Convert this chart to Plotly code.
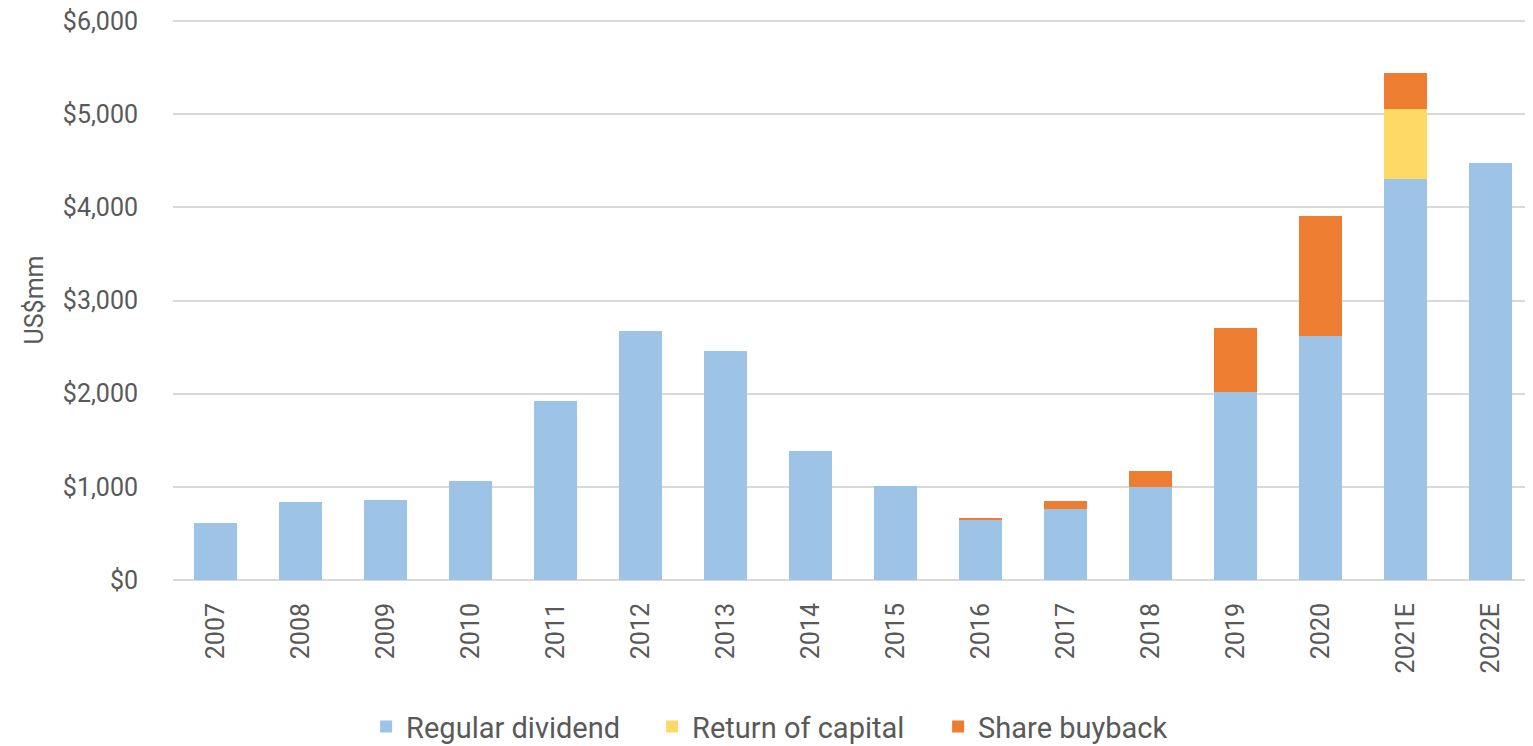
import plotly.graph_objects as go

years = ["2007", "2008", "2009", "2010", "2011", "2012", "2013", "2014",
         "2015", "2016", "2017", "2018", "2019", "2020", "2021E", "2022E"]
regular_dividend = [612, 837, 858, 1062, 1920, 2672, 2457, 1384,
                    1009, 650, 762, 998, 2017, 2618, 4299, 4478]
return_of_capital = [0, 0, 0, 0, 0, 0, 0, 0,
                     0, 0, 0, 0, 0, 0, 755, 0]
share_buyback = [0, 0, 0, 0, 0, 0, 0, 0,
                 0, 10, 86, 172, 685, 1290, 383, 0]
y_ticks = [0, 1000, 2000, 3000, 4000, 5000, 6000]
y_tick_labels = ["$0", "$1,000", "$2,000", "$3,000", "$4,000", "$5,000", "$6,000"]

FONT = "Roboto, 'Open Sans', sans-serif"
NARROW = "'Liberation Sans Narrow', 'Arial Narrow', Roboto, sans-serif"
GREY = "#595959"

fig = go.Figure()
for name, vals, color in [
    ("Regular dividend", regular_dividend, "#9DC3E6"),
    ("Return of capital", return_of_capital, "#FFD966"),
    ("Share buyback", share_buyback, "#ED7D31"),
]:
    fig.add_trace(go.Bar(
        x=years, y=vals, name=name,
        marker=dict(color=color, line=dict(width=0)),
    ))

fig.update_layout(
    barmode="stack",
    bargap=0.494,
    width=1525, height=738,
    margin=dict(l=165, r=0, t=12, b=166, autoexpand=False),
    plot_bgcolor="white", paper_bgcolor="white",
    font=dict(family=FONT, color=GREY, size=20),
    showlegend=True,
    legend=dict(orientation="h", x=0.142, xanchor="left", y=-0.262, yanchor="middle",
                font=dict(size=29, color=GREY, family=FONT), traceorder="normal",
                entrywidth=241, entrywidthmode="pixels"),
    xaxis=dict(
        tickangle=-90, tickfont=dict(size=25, color=GREY, family=NARROW),
        showgrid=False, showline=False, automargin=False,
        ticks="outside", ticklen=12, tickcolor="white",
    ),
    yaxis=dict(
        range=[0, 6011], automargin=False,
        tickvals=y_ticks, ticktext=y_tick_labels,
        tickfont=dict(size=25, color=GREY), ticklabeloverflow="allow",
        showgrid=True, gridcolor="#D9D9D9", gridwidth=2,
        zeroline=True, zerolinecolor="#D9D9D9", zerolinewidth=2,
        ticks="outside", ticklen=29, tickcolor="white",
        title=dict(text="US$mm", font=dict(size=25, color=GREY), standoff=12),
    ),
)

fig.write_html("out.html")
